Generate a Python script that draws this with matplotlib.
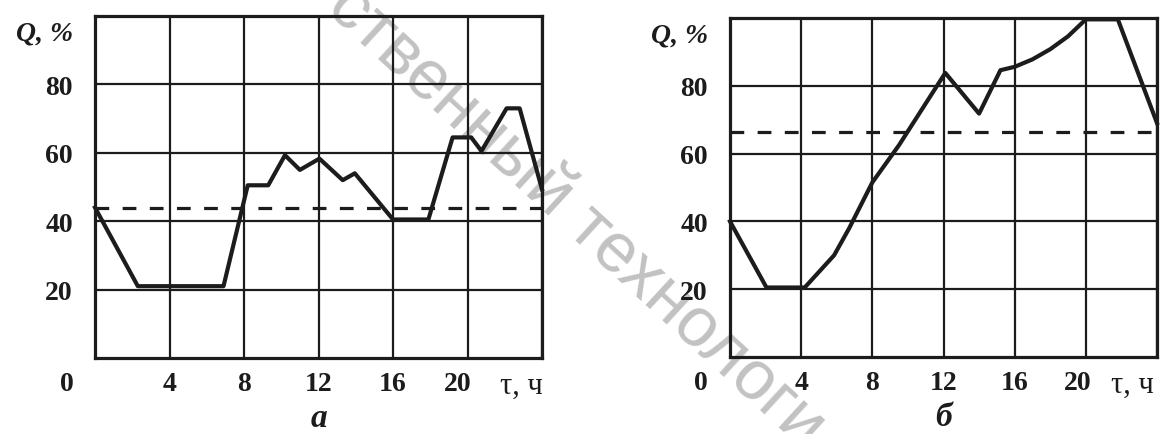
import matplotlib
matplotlib.use("Agg")
import matplotlib.pyplot as plt
from matplotlib.transforms import offset_copy

# panel "а": load over the day
HOURS_A = [0, 2.3, 6.9, 8.2, 9.3, 10.2, 11.0, 12.05, 13.3, 13.95, 16.0, 17.9, 19.2, 20.2, 20.75, 22.1, 22.8, 24]
LOAD_A = [44, 21, 21, 50.5, 50.5, 59.3, 55, 58.3, 52, 54, 40.5, 40.5, 64.5, 64.5, 60.5, 73, 73, 49.3]
MEAN_A = 44

# panel "б"
HOURS_B = [0, 2.05, 4.2, 5.85, 6.7, 8.0, 9.5, 12.1, 14.0, 15.2, 16.0, 17.0, 18.0, 19.0, 20.0, 21.8, 24]
LOAD_B = [40, 20.5, 20.5, 30, 38, 51.5, 62.5, 83.8, 71.8, 84.6, 85.6, 87.8, 90.8, 94.6, 99.6, 99.6, 69]
MEAN_B = 66.5

X_TICKS = [0, 4, 8, 12, 16, 20]
X_TICK_LABELS = ["0", "4", "8", "12", "16", "20"]
Y_TICKS = [20, 40, 60, 80]
X_UNIT = "τ, ч"
Y_UNIT = "Q, %"
PANEL_NAMES = ["а", "б"]
WATERMARK = "ственный технологи"

INK = "#1c1c1c"
SERIF = "Liberation Serif"
W, H = 1161, 435

fig = plt.figure(figsize=(W / 100, H / 100), dpi=100)


def px_box(left, top, right, bottom):
    return [left / W, 1 - bottom / H, (right - left) / W, (bottom - top) / H]


def draw_panel(ax, hours, load, mean, name, zero_shift, twenty_shift, unit_x):
    ax.set_facecolor("none")
    ax.set_xlim(0, 24)
    ax.set_ylim(0, 100)
    ax.set_xticks(X_TICKS + [24])
    ax.set_xticklabels([])
    ax.set_yticks(Y_TICKS + [100])
    ax.set_yticklabels([str(v) for v in Y_TICKS] + [""],
                       fontfamily=SERIF, fontsize=20, fontweight="bold", color=INK)
    ax.tick_params(length=0, pad=16)
    ax.grid(True, color=INK, lw=1.6)
    for sp in ax.spines.values():
        sp.set_linewidth(2.3)
        sp.set_color(INK)
        sp.set_zorder(3)

    ax.plot(hours, load, color=INK, lw=3.0, solid_joinstyle="round", zorder=4, clip_on=False)
    ax.axhline(mean, color=INK, lw=2.3, ls=(0, (4.3, 4.2)), zorder=4)

    xt = ax.get_xaxis_transform()
    for pos, lab in zip(X_TICKS, X_TICK_LABELS):
        shift = 0
        if lab == "0":
            shift = zero_shift
        elif lab == "20":
            shift = twenty_shift
        tr = offset_copy(xt, fig=fig, x=shift, y=-26, units="dots")
        ax.text(pos, 0, lab, transform=tr, ha="center", va="center",
                fontfamily=SERIF, fontsize=20, fontweight="bold", color=INK)
    tr = offset_copy(xt, fig=fig, x=0, y=-27, units="dots")
    ax.text(unit_x, 0, X_UNIT, transform=tr, ha="center", va="center",
            fontfamily=SERIF, fontsize=22, color=INK)
    tr = offset_copy(xt, fig=fig, x=0, y=-60, units="dots")
    ax.text(12, 0, name, transform=tr, ha="center", va="center",
            fontfamily=SERIF, fontsize=24, fontstyle="italic", fontweight="bold", color=INK)
    yt = ax.get_yaxis_transform()
    tr = offset_copy(yt, fig=fig, x=-22, y=0, units="dots")
    ax.text(0, 95, Y_UNIT, transform=tr, ha="right", va="center",
            fontfamily=SERIF, fontsize=20, fontweight="bold", fontstyle="italic", color=INK)


ax_a = fig.add_axes(px_box(95, 17, 542, 359))
draw_panel(ax_a, HOURS_A, LOAD_A, MEAN_A, PANEL_NAMES[0], -28, -10, 22.9)

ax_b = fig.add_axes(px_box(730, 19, 1157, 358))
draw_panel(ax_b, HOURS_B, LOAD_B, MEAN_B, PANEL_NAMES[1], -29, -8, 22.6)

# faint diagonal watermark behind the charts
probe = fig.text(0, 0, WATERMARK, fontfamily="Liberation Sans", fontsize=40)
fig.canvas.draw()
width = probe.get_window_extent().width
probe.remove()
size = 40 * 650 / width
fig.text(576 / W, 1 - 217 / H, WATERMARK, fontfamily="Liberation Sans", fontsize=size,
         color="#c2c2c2", rotation=-42.6, rotation_mode="anchor",
         ha="center", va="center", zorder=-1)

fig.savefig("out.png", dpi=100, facecolor="white")
